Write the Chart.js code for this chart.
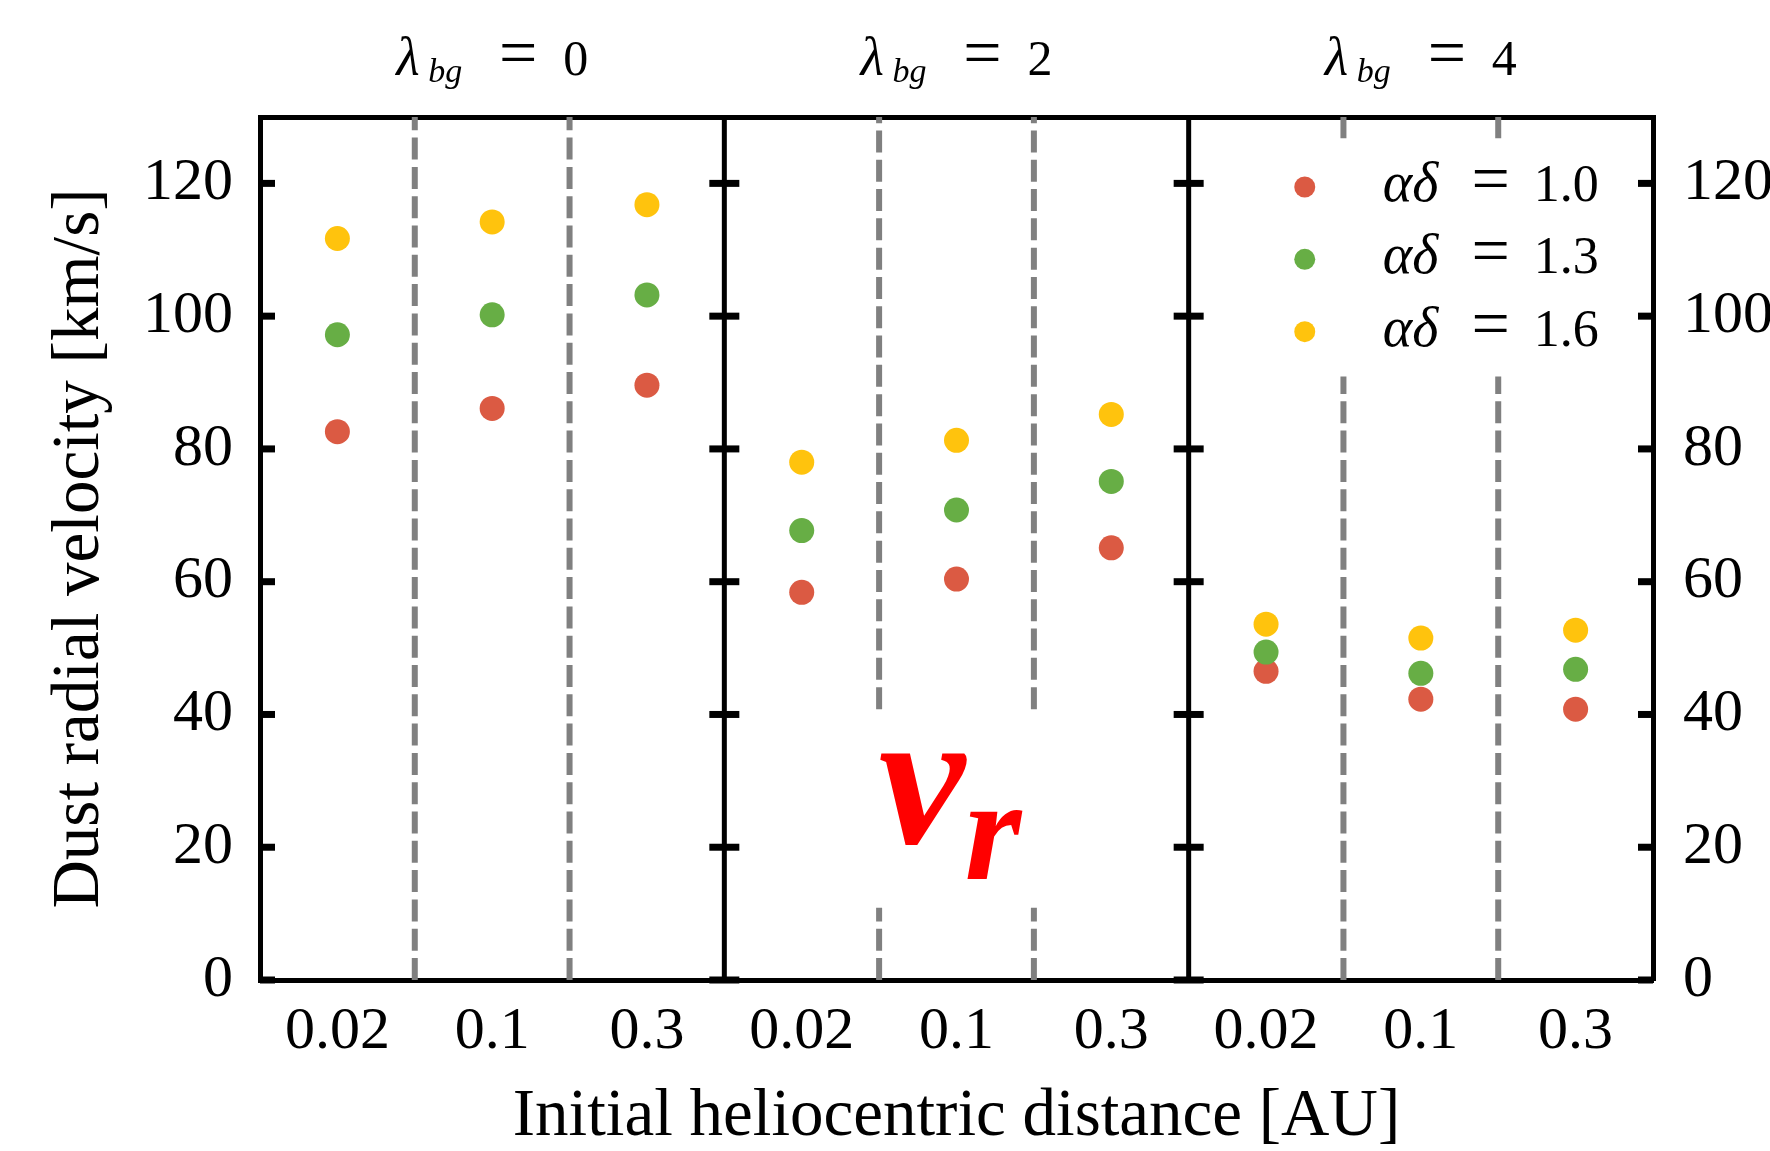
<!DOCTYPE html>
<html>
<head>
<meta charset="utf-8">
<title>Dust radial velocity</title>
<script src="https://cdn.jsdelivr.net/npm/chart.js@4.4.1/dist/chart.umd.min.js"></script>
<style>
  html, body { margin: 0; padding: 0; background: #fff; }
  #canvasContainer { width: 1770px; height: 1151px; }
</style>
</head>
<body>
<div id="canvasContainer"><canvas id="myChart" width="1770" height="1151"></canvas></div>
<script>
// values (km/s), three panels x three start distances
var lambdaValues = [0, 2, 4];
var distanceLabels = ["0.02", "0.1", "0.3"];
var alphaDeltaLabels = ["1.0", "1.3", "1.6"];
var vrAlpha10 = [82.6, 86.1, 89.6, 58.4, 60.4, 65.1, 46.5, 42.3, 40.8];
var vrAlpha13 = [97.2, 100.2, 103.2, 67.7, 70.8, 75.1, 49.4, 46.2, 46.8];
var vrAlpha16 = [111.7, 114.2, 116.8, 78.0, 81.3, 85.2, 53.6, 51.5, 52.7];
var yTicks = [0, 20, 40, 60, 80, 100, 120];
var yMax = 130;

var seriesColors = ["#db5a43", "#67ae45", "#ffc30d"];
var FONT = "'Liberation Serif', 'Times New Roman', serif";

// dashed lines are broken where the legend and the v_r label sit
var dashGaps = { 4: [10.9, 40.8], 5: [10.9, 40.8], 7: [90.9, 126.8], 8: [90.9, 126.8] };

function toPoints(values) {
  return values.map(function (v, i) {
    return { x: Math.floor(i / 3) * 3 + (i % 3) + 0.5, y: v };
  });
}

function vLine(x) {
  var gap = dashGaps[x];
  if (!gap) return [{ x: x, y: 0 }, { x: x, y: yMax }];
  return [{ x: x, y: 0 }, { x: x, y: gap[0] }, { x: x, y: null }, { x: x, y: gap[1] }, { x: x, y: yMax }];
}

var datasets = [];
[vrAlpha10, vrAlpha13, vrAlpha16].forEach(function (vals, k) {
  datasets.push({
    label: "αδ = " + alphaDeltaLabels[k],
    data: toPoints(vals),
    backgroundColor: seriesColors[k],
    borderWidth: 0,
    pointRadius: 12.5,
    pointHoverRadius: 12.5,
    order: 3 - k
  });
});
[1, 2, 4, 5, 7, 8].forEach(function (x) {
  datasets.push({
    data: vLine(x),
    showLine: true,
    borderColor: "#808080",
    borderWidth: 6,
    borderDash: [22, 7.3],
    pointRadius: 0,
    spanGaps: false,
    order: 20
  });
});
[3, 6].forEach(function (x) {
  datasets.push({
    data: vLine(x),
    showLine: true,
    borderColor: "#000",
    borderWidth: 5,
    pointRadius: 0,
    order: 19
  });
});

function setYTicks(scale) {
  scale.ticks = yTicks.map(function (v) { return { value: v }; });
}

// tick marks: inward on the outer frame, both sides on the panel borders
var tickMarks = {
  id: "tickMarks",
  afterDatasetsDraw: function (chart) {
    var ctx = chart.ctx, xs = chart.scales.x, ys = chart.scales.y;
    ctx.save();
    ctx.strokeStyle = "#000";
    ctx.lineWidth = 7;
    yTicks.forEach(function (v) {
      var py = ys.getPixelForValue(v);
      [0, 3, 6, 9].forEach(function (xv) {
        var px = xs.getPixelForValue(xv);
        var l = xv === 0 ? px : px - 15;
        var r = xv === 9 ? px : px + 15;
        ctx.beginPath();
        ctx.moveTo(l, py);
        ctx.lineTo(r, py);
        ctx.stroke();
      });
    });
    ctx.restore();
  }
};

function drawSegs(ctx, segs, x0, baseline) {
  segs.forEach(function (s) {
    ctx.font = (s.style ? s.style + " " : "") + s.size + "px " + FONT;
    ctx.textAlign = s.align || "left";
    ctx.fillText(s.text, x0 + s.dx, baseline + (s.dy || 0));
  });
}

var labelsPlugin = {
  id: "labelsPlugin",
  afterDraw: function (chart) {
    var ctx = chart.ctx, xs = chart.scales.x, ys = chart.scales.y;
    ctx.save();
    ctx.fillStyle = "#000";
    ctx.textBaseline = "alphabetic";
    // panel titles
    lambdaValues.forEach(function (lam, i) {
      var cx = xs.getPixelForValue(i * 3 + 1.5);
      drawSegs(ctx, [
        { text: "λ", size: 54, style: "italic", dx: -96 },
        { text: "bg", size: 34, style: "italic", dx: -64, dy: 7 },
        { text: "=", size: 68, dx: 26, align: "center" },
        { text: String(lam), size: 50, dx: 71 }
      ], cx, 75);
    });
    // legend
    var lx = xs.getPixelForValue(6.75);
    alphaDeltaLabels.forEach(function (lab, k) {
      var cy = ys.getPixelForValue(119.45) + k * 72.3;
      ctx.fillStyle = seriesColors[k];
      ctx.beginPath();
      ctx.arc(lx, cy, 10.5, 0, Math.PI * 2);
      ctx.fill();
      ctx.fillStyle = "#000";
      drawSegs(ctx, [
        { text: "αδ", size: 56, style: "italic", dx: 78 },
        { text: "=", size: 68, dx: 186, align: "center" },
        { text: lab, size: 52, dx: 229 }
      ], lx, cy + 14);
    });
    // v_r label
    var vx = xs.getPixelForValue(4.5);
    var vy = ys.getPixelForValue(20.7);
    ctx.fillStyle = "#ff0000";
    drawSegs(ctx, [
      { text: "v", size: 195, style: "italic bold", dx: -78 },
      { text: "r", size: 146, style: "italic bold", dx: 8, dy: 36 }
    ], vx, vy);
    ctx.restore();
  }
};

var ctx = document.getElementById("myChart").getContext("2d");
var myChart = new Chart(ctx, {
  type: "scatter",
  data: { datasets: datasets },
  options: {
    responsive: false,
    animation: false,
    devicePixelRatio: 1,
    layout: { padding: 0 },
    plugins: { legend: { display: false }, tooltip: { enabled: false } },
    scales: {
      x: {
        type: "linear",
        position: "bottom",
        min: 0,
        max: 9,
        afterBuildTicks: function (scale) {
          scale.ticks = [0.5, 1.5, 2.5, 3.5, 4.5, 5.5, 6.5, 7.5, 8.5].map(function (v) { return { value: v }; });
        },
        ticks: {
          callback: function (v, i) { return distanceLabels[i % 3]; },
          font: { family: FONT, size: 60, lineHeight: 1 },
          color: "#000",
          padding: 22.5,
          maxRotation: 0,
          autoSkip: false
        },
        grid: { display: false, drawTicks: false },
        border: { display: true, color: "#000", width: 5 },
        title: {
          display: true,
          text: "Initial heliocentric distance [AU]",
          font: { family: FONT, size: 67, lineHeight: 1 },
          color: "#000",
          padding: { top: 0, bottom: 0 }
        },
        afterFit: function (scale) { scale.height = 171; }
      },
      x2: {
        type: "linear",
        position: "top",
        min: 0,
        max: 9,
        ticks: { display: false },
        grid: { display: false, drawTicks: false },
        border: { display: true, color: "#000", width: 5 },
        afterFit: function (scale) { scale.height = 117; }
      },
      y: {
        type: "linear",
        position: "left",
        min: 0,
        max: yMax,
        afterBuildTicks: setYTicks,
        ticks: { font: { family: FONT, size: 60, lineHeight: 1 }, color: "#000", padding: 27 },
        grid: { display: false, drawTicks: false },
        border: { display: true, color: "#000", width: 5 },
        title: {
          display: true,
          text: "Dust radial velocity [km/s]",
          font: { family: FONT, size: 67, lineHeight: 1 },
          color: "#000",
          padding: { top: 46.5, bottom: 0 }
        },
        afterFit: function (scale) { scale.width = 260; }
      },
      y2: {
        type: "linear",
        position: "right",
        min: 0,
        max: yMax,
        afterBuildTicks: setYTicks,
        ticks: { font: { family: FONT, size: 60, lineHeight: 1 }, color: "#000", padding: 30 },
        grid: { display: false, drawTicks: false },
        border: { display: true, color: "#000", width: 5 },
        afterFit: function (scale) { scale.width = 117; }
      }
    }
  },
  plugins: [tickMarks, labelsPlugin]
});
</script>
</body>
</html>
